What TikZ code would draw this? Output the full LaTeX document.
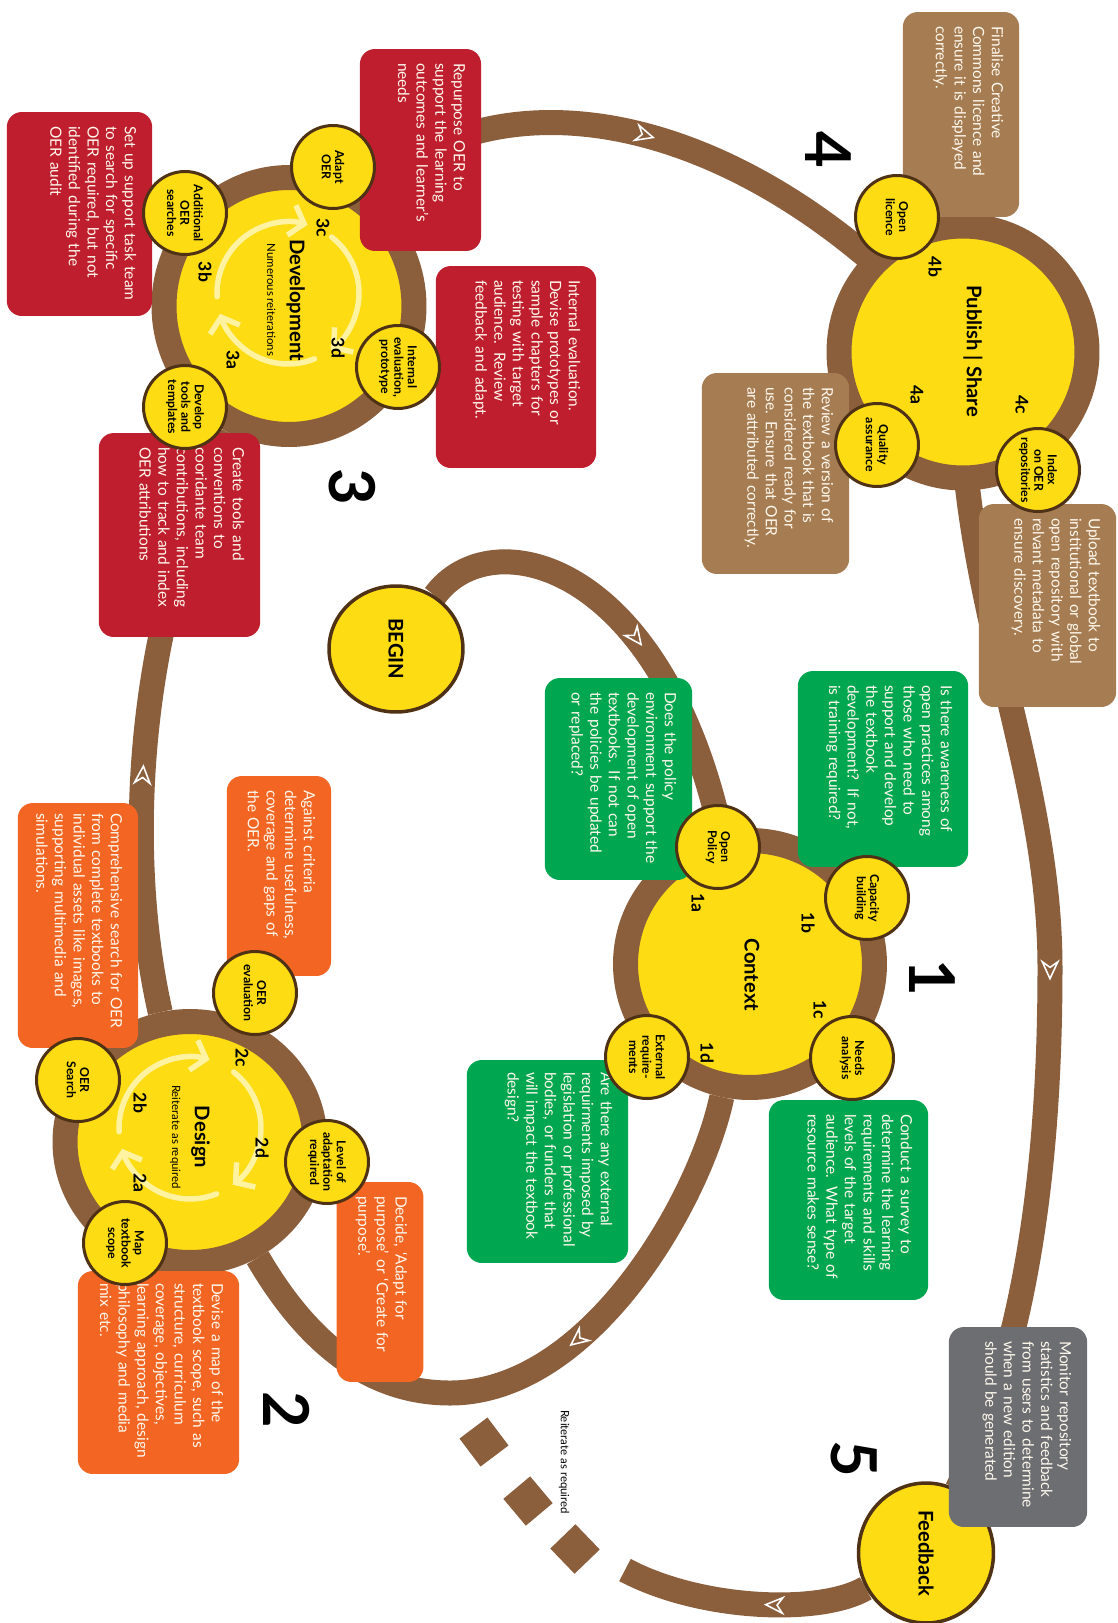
\documentclass[tikz,border=0pt]{standalone}
\usepackage{fontspec}
\setmainfont{Lato}
\usepackage{tikz}
\usetikzlibrary{shapes.geometric, arrows.meta, decorations.markings, backgrounds}

\definecolor{ringbrown}{HTML}{8B5E3C}
\definecolor{hubyellow}{HTML}{FDDC14}
\definecolor{spotline}{HTML}{4F3215}
\definecolor{tanbox}{HTML}{A67C52}
\definecolor{redbox}{HTML}{BE1E2D}
\definecolor{greenbox}{HTML}{00A650}
\definecolor{orangebox}{HTML}{F26522}
\definecolor{greybox}{HTML}{6D6E71}
\definecolor{loopc}{HTML}{FFF2A0}
\definecolor{notetext}{HTML}{FFF9EE}

\begin{document}
\begin{tikzpicture}[
  x=0.02cm, y=-0.02cm,
  hub/.style={ellipse, draw=ringbrown, line width=0.5cm, fill=hubyellow, inner sep=0pt},
  hublabel/.style={rotate=-90, inner sep=0pt, align=center, font=\fontsize{11.5}{13}\selectfont\bfseries},
  terminal/.style={ellipse, draw=spotline, line width=0.07cm, fill=hubyellow, inner sep=0pt, rotate=-90, font=\fontsize{11.5}{13}\selectfont\bfseries},
  spot/.style={circle, draw=spotline, line width=0.06cm, fill=hubyellow, minimum size=1.66cm, inner sep=0pt, align=center, rotate=-90, font=\fontsize{7}{7.6}\selectfont\bfseries},
  note/.style={rectangle, rounded corners=0.3cm, rotate=-90, align=left, text=notetext, inner xsep=0.28cm, inner ysep=0.32cm, font=\fontsize{8.8}{10.6}\selectfont},
  stepno/.style={rotate=-90, inner sep=0pt, font=\fontsize{10}{10}\selectfont\bfseries},
  phase/.style={rotate=-90, inner sep=0pt, font=\fontsize{36}{36}\selectfont\bfseries},
  road/.style={draw=ringbrown, line width=0.5cm},
  flow/.style={postaction={decorate, decoration={markings, mark=at position #1 with {\arrow{Stealth[open, color=white, line width=0.9pt, length=12pt, width=11pt]}}}}},
  swirl/.style={draw=loopc, line width=0.11cm, line cap=round, -{Straight Barb[length=0.26cm, width=0.62cm]}},
  chip/.style={rectangle, fill=ringbrown, minimum size=0.7cm, inner sep=0pt},
]
\useasboundingbox (0,0) rectangle (1118,1623);

% Stages
\node[hub, minimum width=4.96cm, minimum height=5.04cm] (publish) at (963,352) {};
\node[hub, minimum width=5cm, minimum height=5.14cm] (development) at (289,306) {};
\node[hub, minimum width=4.98cm, minimum height=4.94cm] (context) at (750,964) {};
\node[hub, minimum width=5cm, minimum height=4.82cm] (design) at (190,1142) {};
\node[terminal, minimum width=2.52cm, minimum height=2.68cm] (begin) at (396,649) {BEGIN};
\node[terminal, minimum width=2.8cm, minimum height=2.7cm] (feedback) at (926,1553) {Feedback};
\coordinate (fade) at (625,1570);

% Reiteration loops
\foreach \cx/\cy in {288/293, 190/1128} {
  \draw[swirl] ([shift={(183:1.42cm)}]\cx,\cy) arc[start angle=183, end angle=74, radius=1.42cm];
  \draw[swirl] ([shift={(52:1.42cm)}]\cx,\cy) arc[start angle=52, end angle=-53, radius=1.42cm];
  \draw[swirl] ([shift={(-68:1.42cm)}]\cx,\cy) arc[start angle=-68, end angle=-163, radius=1.42cm];
}

% Stage names
\node[hublabel] (publishlabel) at (973,351) {Publish | Share};
\node[hublabel] (developmentlabel) at (286,300) {Development\\{\fontsize{6.5}{7}\selectfont\mdseries Numerous reiterations}};
\node[hublabel] (contextlabel) at (752,975) {Context};
\node[hublabel] (designlabel) at (190,1137) {Design\\{\fontsize{6.5}{7}\selectfont\mdseries Reiterate as required}};

% Notes
\node[note, fill=tanbox, text width=3.54cm, text depth=1.46cm] (licencenote) at (961,114.5) {Finalise Creative\\Commons licence and\\ensure it is displayed\\correctly.};
\node[note, fill=tanbox, text width=3.46cm, text depth=2.08cm] (qualitynote) at (775.5,473.5) {Review a version of\\the textbook that is\\considered ready for\\use. Ensure that OER\\are attributed correctly.};
\node[note, fill=tanbox, text width=3.5cm, text depth=1.88cm] (indexnote) at (1047.5,605.5) {Upload textbook to\\institutional or global\\open repository with\\relvant metadata to\\ensure discovery.};
\node[note, fill=redbox, text width=3.48cm, text depth=1.56cm] (adaptnote) at (420.5,150) {Repurpose OER to\\support the learning\\outcomes and learner’s\\needs};
\node[note, fill=redbox, text width=3.52cm, text depth=2.04cm] (searchnote) at (79.5,214) {Set up support task team\\to search for specific\\OER required, but not\\identified during the\\OER audit};
\node[note, fill=redbox, text width=3.48cm, text depth=2.34cm] (prototypenote) at (516,367) {Internal evaluation.\\Devise prototypes or\\sample chapters for\\testing with target\\audience. Review\\feedback and adapt.};
\node[note, fill=redbox, text width=3.52cm, text depth=2.36cm] (toolsnote) at (179.5,535) {Create tools and\\conventions to\\cooridante team\\contributions, including\\how to track and index\\OER attributions};
\node[note, fill=greenbox, text width=3.36cm, text depth=2.54cm] (capacitynote) at (883,769) {Is there awareness of\\open practices among\\those who need to\\support and develop\\the textbook\\development? If not,\\is training required?};
\node[note, fill=greenbox, text width=3.48cm, text depth=2.08cm] (policynote) at (618.5,779) {Does the policy\\environment support the\\development of open\\textbooks. If not can\\the policies be updated\\or replaced?};
\node[note, fill=greenbox, text width=3.44cm, text depth=2.32cm] (needsnote) at (848.5,1200) {Conduct a survey to\\determine the learning\\requirements and skills\\levels of the target\\audience. What type of\\resource makes sense?};
\node[note, fill=greenbox, inner xsep=0.24cm, text width=3.58cm, text depth=2.36cm] (externalnote) at (547.5,1161.5) {Are there any external\\requirments imposed by\\legislation or professional\\bodies, or funders that\\will impact the textbook\\design?};
\node[note, fill=orangebox, text width=3.44cm, text depth=1.22cm] (evalnote) at (279,876) {Against criteria\\determine usefulness,\\coverage and gaps of\\the OER.};
\node[note, fill=orangebox, inner xsep=0.2cm, text width=4.5cm, text depth=1.54cm] (oersearchnote) at (78,925.5) {Comprehensive search for OER\\from complete textbooks to\\individual assets like images,\\supporting multimedia and\\simulations.};
\node[note, fill=orangebox, text width=3.44cm, text depth=0.86cm] (levelnote) at (380,1282) {Decide, ‘Adapt for\\purpose’ or ‘Create for\\purpose’.};
\node[note, fill=orangebox, inner xsep=0.24cm, text width=3.58cm, text depth=2.36cm] (scopenote) at (158.5,1372.5) {Devise a map of the\\textbook scope, such as\\structure, curriculum\\coverage, objectives,\\learning approach, design\\philosophy and media\\mix etc.};
\node[note, fill=greybox, text width=3.44cm, text depth=1.9cm] (monitornote) at (1018,1427) {Monitor repository\\statistics and feedback\\from users to determine\\when a new edition\\should be generated};

% Sub-steps
\node[spot] (licence) at (897,217) {Open\\licence};
\node[spot] (quality) at (877,445) {Quality\\assurance};
\node[spot] (index) at (1038,470) {Index\\on OER\\repositories};
\node[spot] (adapt) at (333,167) {Adapt\\OER};
\node[spot] (addsearch) at (185,213) {Additional\\OER\\searches};
\node[spot] (tools) at (185,407) {Develop\\tools and\\templates};
\node[spot] (prototype) at (398,367) {Internal\\evaluation,\\prototype};
\node[spot] (policy) at (718,847) {Open\\Policy};
\node[spot] (capacity) at (867,898) {Capacity\\building};
\node[spot] (needs) at (852,1058) {Needs\\analysis};
\node[spot] (external) at (647,1057) {External\\require-\\ments};
\node[spot] (evaluation) at (255,993) {OER\\evaluation};
\node[spot] (oersearch) at (78,1080) {OER\\Search};
\node[spot] (level) at (327,1162) {Level of\\adaptation\\required};
\node[spot] (scope) at (125,1243) {Map\\textbook\\scope};

% Step numbers
\foreach \s/\px/\py in {4b/935/267, 4a/917/395, 4c/1022/405, 3c/323/228, 3b/205/272, 3a/233/360, 3d/338/348,
                       1a/698/903, 1b/808/923, 1c/820/1010, 1d/707/1053, 2c/242/1058, 2b/140/1103, 2a/140/1183, 2d/262/1148}
  \node[stepno] (step\s) at (\px,\py) {\s};
\node[phase] (phase1) at (932,978) {1};
\node[phase] (phase2) at (287,1410) {2};
\node[phase] (phase3) at (352,487) {3};
\node[phase] (phase4) at (828,150) {4};
\node[phase] (phase5) at (854,1459) {5};

% Repeat
\node[chip, rotate=37] (gap1) at (484,1442) {};
\node[chip, rotate=40] (gap2) at (528,1501) {};
\node[chip, rotate=44] (gap3) at (575,1549) {};
\node[rotate=-90, inner sep=0pt, font=\fontsize{6.5}{7}\selectfont] (again) at (564,1462) {Reiterate as required};

% Connections
\begin{scope}[on background layer]
\draw[road, flow=0.55] (begin) .. controls (490,520) and (660,560) .. (context);
\draw[road, flow=0.44] (context) .. controls (700,1200) and (590,1393) .. (450,1393) .. controls (360,1393) and (300,1330) .. (design);
\draw[road, flow=0.42] (design) .. controls (130,880) and (125,650) .. (development);
\draw[road, flow=0.54] (development.center) .. controls (400,40) and (720,70) .. (publish.center);
\draw[road, flow=0.55] (publish.center) .. controls (950,580) and (1050,760) .. (1050,968) .. controls (1050,1150) and (1030,1340) .. (feedback);
\draw[road, flow=0.42] (feedback) .. controls (820,1615) and (700,1610) .. (fade);
\end{scope}

\end{tikzpicture}
\end{document}
